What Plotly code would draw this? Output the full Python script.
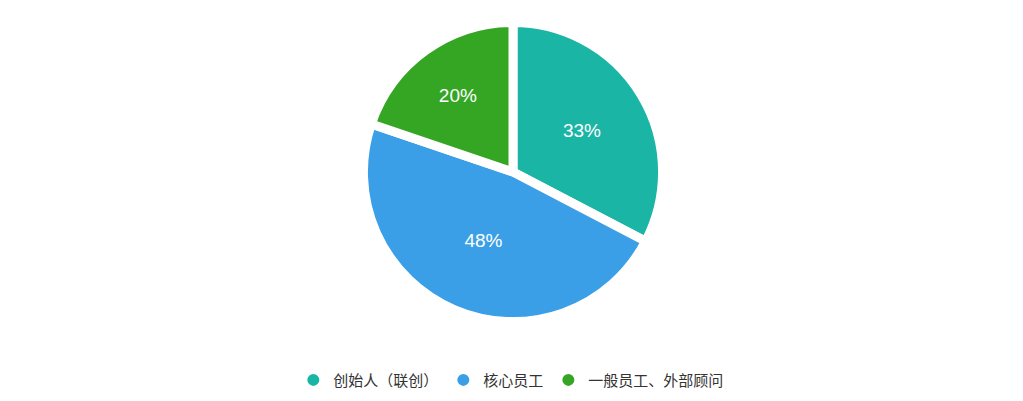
import plotly.graph_objects as go

labels = ['创始人（联创）', '核心员工', '一般员工、外部顾问']
values = [33, 48, 20]
colors = ['#1bb5a5', '#3a9fe6', '#34a624']

fig = go.Figure()

fig.add_trace(go.Pie(
    labels=labels,
    values=values,
    sort=False,
    direction='clockwise',
    rotation=0,
    marker=dict(colors=colors, line=dict(color='#ffffff', width=9)),
    texttemplate='%{percent:.0%}',
    textposition='inside',
    insidetextorientation='horizontal',
    textfont=dict(color='#ffffff', size=19, family='Liberation Sans, Arial, sans-serif'),
    domain=dict(x=[0, 0.9873], y=[0.218, 0.964]),
    showlegend=False,
    hoverinfo='label+percent',
))

# circle legend markers like the original
for name, c in zip(labels, colors):
    fig.add_trace(go.Scatter(
        x=[None], y=[None], mode='markers', name=name,
        marker=dict(color=c, size=14, symbol='circle'),
    ))

fig.update_layout(
    width=1023, height=401,
    margin=dict(l=0, r=0, t=0, b=0),
    paper_bgcolor='white', plot_bgcolor='white',
    xaxis=dict(visible=False), yaxis=dict(visible=False),
    font=dict(family='Noto Sans CJK SC, sans-serif', size=15, color='#333333'),
    legend=dict(orientation='h', x=0.492, xanchor='center', y=0.072, yanchor='middle',
                font=dict(size=15), itemsizing='constant'),
)

fig.write_html("out.html")
